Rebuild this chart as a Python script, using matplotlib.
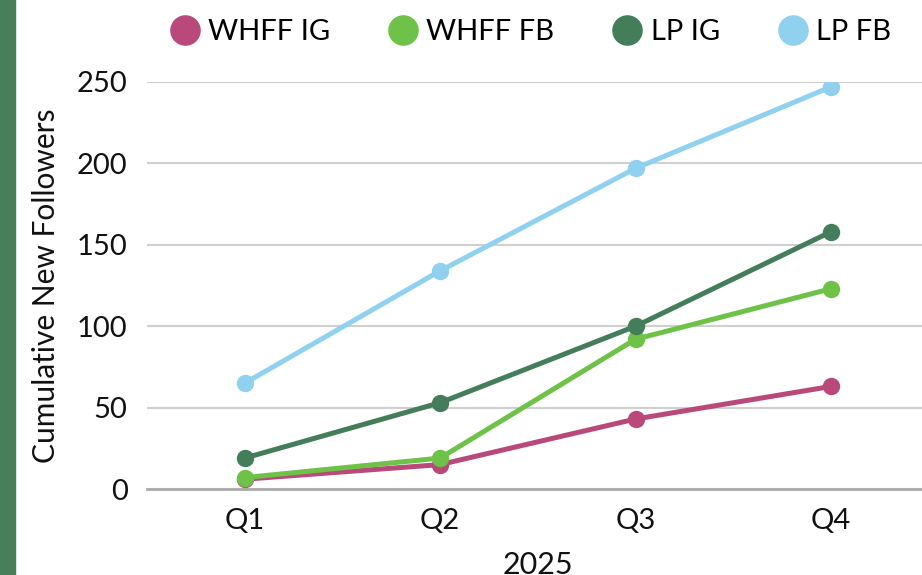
import matplotlib
matplotlib.use("Agg")
import matplotlib.pyplot as plt
from matplotlib.patches import Rectangle

quarters = ["Q1", "Q2", "Q3", "Q4"]
series_names = ["WHFF IG", "WHFF FB", "LP IG", "LP FB"]
whff_ig = [6, 15, 43, 63]
whff_fb = [7, 19, 92, 123]
lp_ig = [19, 53, 100, 158]
lp_fb = [65, 134, 197, 247]
colors = ["#B9497B", "#6DC247", "#447D59", "#8FD1EE"]
yticks = [0, 50, 100, 150, 200, 250]

plt.rcParams['font.family'] = ['Lato', 'DejaVu Sans']

fig = plt.figure(figsize=(9.22, 5.75), dpi=100)
fig.patches.append(Rectangle((0, 0), 15 / 922, 1, transform=fig.transFigure,
                             color="#467F5A", zorder=0))

ax = fig.add_axes([147 / 922, 1 - 489 / 575, (928.7 - 147) / 922, (489 - 82) / 575])
x = list(range(len(quarters)))
data = [whff_ig, whff_fb, lp_ig, lp_fb]
for vals, name, c in zip(data, series_names, colors):
    ax.plot(x, vals, color=c, lw=3.6, marker="o", markersize=11.5,
            label=name, solid_capstyle="round", zorder=3)

ax.set_xlim(-0.5, 3.5)
ax.set_ylim(0, 250)
ax.set_yticks(yticks)
ax.set_xticks(x)
ax.set_xticklabels(quarters)
ax.tick_params(axis="both", length=0, labelsize=21, colors="#111111")
ax.tick_params(axis="x", pad=14)
ax.tick_params(axis="y", pad=14)
ax.grid(axis="y", color="#D0D0D0", lw=1.5)
ax.set_axisbelow(True)
for s in ["top", "right", "left"]:
    ax.spines[s].set_visible(False)
ax.spines["bottom"].set_color("#AAAAAA")
ax.spines["bottom"].set_linewidth(2)
ax.set_ylabel("Cumulative New Followers", fontsize=21.5, color="#111111", labelpad=12)
ax.set_xlabel("2025", fontsize=22, color="#111111", labelpad=12)

handles = [plt.Line2D([], [], ls="none", marker="o", markersize=21, color=c) for c in colors]
fig.legend(handles, series_names, loc="upper center", bbox_to_anchor=(0.574, 1.012),
           ncol=4, frameon=False, fontsize=21, handletextpad=0.2, columnspacing=1.9,
           handlelength=1.2)

fig.savefig("out.png", dpi=100)
